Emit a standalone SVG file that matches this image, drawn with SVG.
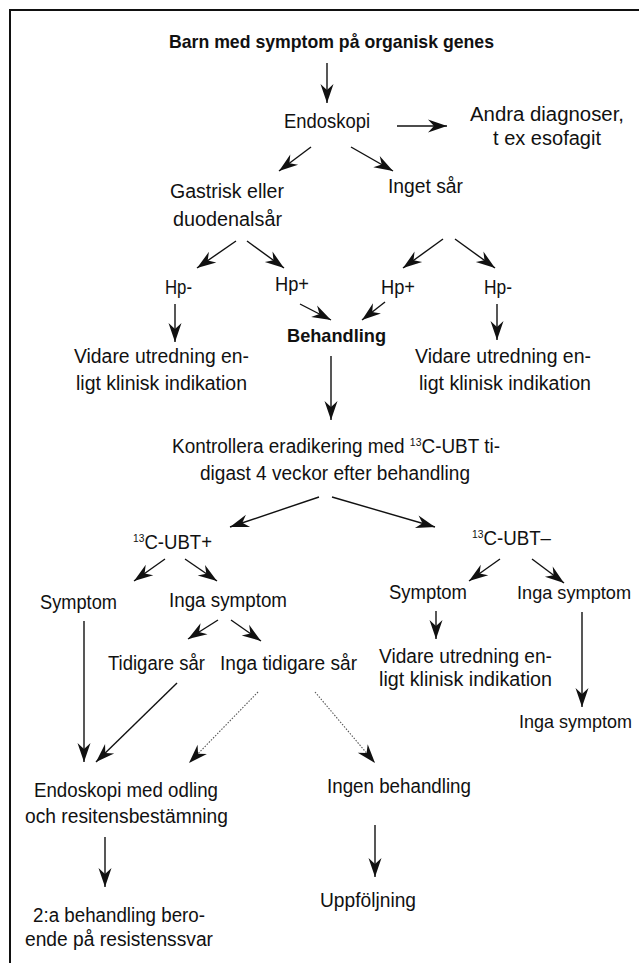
<svg xmlns="http://www.w3.org/2000/svg" width="639" height="963" viewBox="0 0 639 963">
<style>
text{font-family:"Liberation Sans Narrow","Liberation Sans","Arial Narrow",Arial,sans-serif;font-size:20px;fill:#111}
.b{font-weight:bold;font-size:19px}
.s{font-size:19px}
.sup{font-size:11px}
.c{fill:none;stroke:#111;stroke-width:1.4}
.d{fill:none;stroke:#555;stroke-width:1.1;stroke-dasharray:1.5 1.5}
</style>
<defs>
<marker id="ah" viewBox="-20 -7 21 14" refX="0" refY="0" markerWidth="21" markerHeight="14" markerUnits="userSpaceOnUse" orient="auto">
<path d="M0,0 L-19,-6.5 L-13,0 L-19,6.5 Z" fill="#111"/>
</marker>
</defs>
<rect width="639" height="963" fill="#fff"/>
<g id="frame" fill="none" stroke="#111" stroke-width="2">
<path d="M9,10 H639 M10,9 V963"/>
</g>
<g id="connectors">
<line class="c" x1="327" y1="63" x2="327" y2="103" marker-end="url(#ah)"/>
<line class="c" x1="397" y1="126" x2="447" y2="126" marker-end="url(#ah)"/>
<line class="c" x1="311" y1="147" x2="279" y2="171" marker-end="url(#ah)"/>
<line class="c" x1="351" y1="147" x2="393" y2="171" marker-end="url(#ah)"/>
<line class="c" x1="236" y1="241" x2="197" y2="268" marker-end="url(#ah)"/>
<line class="c" x1="247" y1="241" x2="284" y2="268" marker-end="url(#ah)"/>
<line class="c" x1="443" y1="239" x2="403" y2="268" marker-end="url(#ah)"/>
<line class="c" x1="455" y1="239" x2="495" y2="268" marker-end="url(#ah)"/>
<line class="c" x1="300" y1="304" x2="331" y2="320" marker-end="url(#ah)"/>
<line class="c" x1="385" y1="302" x2="362" y2="320" marker-end="url(#ah)"/>
<line class="c" x1="175" y1="304" x2="175" y2="342" marker-end="url(#ah)"/>
<line class="c" x1="497" y1="304" x2="497" y2="340" marker-end="url(#ah)"/>
<line class="c" x1="331" y1="356" x2="331" y2="420" marker-end="url(#ah)"/>
<line class="c" x1="319" y1="497" x2="230" y2="527" marker-end="url(#ah)"/>
<line class="c" x1="332" y1="497" x2="435" y2="527" marker-end="url(#ah)"/>
<line class="c" x1="165" y1="559" x2="134" y2="581" marker-end="url(#ah)"/>
<line class="c" x1="185" y1="559" x2="217" y2="581" marker-end="url(#ah)"/>
<line class="c" x1="500" y1="559" x2="469" y2="581" marker-end="url(#ah)"/>
<line class="c" x1="532" y1="559" x2="564" y2="583" marker-end="url(#ah)"/>
<line class="c" x1="218" y1="620" x2="188" y2="639" marker-end="url(#ah)"/>
<line class="c" x1="231" y1="620" x2="261" y2="641" marker-end="url(#ah)"/>
<line class="c" x1="436" y1="611" x2="436" y2="639" marker-end="url(#ah)"/>
<line class="c" x1="582" y1="612" x2="582" y2="707" marker-end="url(#ah)"/>
<line class="c" x1="84" y1="621" x2="84" y2="762" marker-end="url(#ah)"/>
<line class="c" x1="177" y1="683" x2="96" y2="762" marker-end="url(#ah)"/>
<line class="d" x1="258" y1="692" x2="189" y2="763" marker-end="url(#ah)"/>
<line class="d" x1="315" y1="692" x2="375" y2="763" marker-end="url(#ah)"/>
<line class="c" x1="105" y1="837" x2="105" y2="887" marker-end="url(#ah)"/>
<line class="c" x1="375" y1="825" x2="375" y2="877" marker-end="url(#ah)"/>
</g>
<g id="n-start"><text class="b" x="169" y="48" textLength="325" lengthAdjust="spacingAndGlyphs">Barn med symptom på organisk genes</text></g>
<g id="n-endoskopi"><text x="284" y="128" textLength="86" lengthAdjust="spacingAndGlyphs">Endoskopi</text></g>
<g id="n-andra"><text x="470" y="121" textLength="154" lengthAdjust="spacingAndGlyphs">Andra diagnoser,</text><text x="493" y="145" textLength="108" lengthAdjust="spacingAndGlyphs">t ex esofagit</text></g>
<g id="n-gastrisk"><text x="170" y="198" textLength="114" lengthAdjust="spacingAndGlyphs">Gastrisk eller</text><text x="173" y="226" textLength="109" lengthAdjust="spacingAndGlyphs">duodenalsår</text></g>
<g id="n-inget"><text x="388" y="193" textLength="75" lengthAdjust="spacingAndGlyphs">Inget sår</text></g>
<g id="n-hpneg1"><text x="165" y="294" textLength="27" lengthAdjust="spacingAndGlyphs">Hp-</text></g>
<g id="n-hppos1"><text x="275" y="291" textLength="34" lengthAdjust="spacingAndGlyphs">Hp+</text></g>
<g id="n-hppos2"><text x="381" y="294" textLength="34" lengthAdjust="spacingAndGlyphs">Hp+</text></g>
<g id="n-hpneg2"><text x="484" y="294" textLength="28" lengthAdjust="spacingAndGlyphs">Hp-</text></g>
<g id="n-behandling"><text class="b" x="287" y="342" textLength="99" lengthAdjust="spacingAndGlyphs">Behandling</text></g>
<g id="n-vidare1"><text x="74" y="363" textLength="175" lengthAdjust="spacingAndGlyphs">Vidare utredning en-</text><text x="76" y="390" textLength="171" lengthAdjust="spacingAndGlyphs">ligt klinisk indikation</text></g>
<g id="n-vidare2"><text x="415" y="363" textLength="176" lengthAdjust="spacingAndGlyphs">Vidare utredning en-</text><text x="419" y="390" textLength="172" lengthAdjust="spacingAndGlyphs">ligt klinisk indikation</text></g>
<g id="n-kontrollera"><text x="172" y="453" textLength="328" lengthAdjust="spacingAndGlyphs">Kontrollera eradikering med <tspan class="sup" dy="-7">13</tspan><tspan dy="7">C-UBT ti-</tspan></text><text x="200" y="480" textLength="270" lengthAdjust="spacingAndGlyphs">digast 4 veckor efter behandling</text></g>
<g id="n-ubtpos"><text x="133" y="549" textLength="79" lengthAdjust="spacingAndGlyphs"><tspan class="sup" dy="-7">13</tspan><tspan dy="7">C-UBT+</tspan></text></g>
<g id="n-ubtneg"><text x="472" y="545" textLength="79" lengthAdjust="spacingAndGlyphs"><tspan class="sup" dy="-7">13</tspan><tspan dy="7">C-UBT–</tspan></text></g>
<g id="n-symptom1"><text x="40" y="609" textLength="77" lengthAdjust="spacingAndGlyphs">Symptom</text></g>
<g id="n-ingasym1"><text x="169" y="607" textLength="118" lengthAdjust="spacingAndGlyphs">Inga symptom</text></g>
<g id="n-symptom2"><text x="389" y="599" textLength="78" lengthAdjust="spacingAndGlyphs">Symptom</text></g>
<g id="n-ingasym2"><text class="s" x="517" y="599" textLength="114" lengthAdjust="spacingAndGlyphs">Inga symptom</text></g>
<g id="n-tidigare"><text x="108" y="670" textLength="97" lengthAdjust="spacingAndGlyphs">Tidigare sår</text></g>
<g id="n-ingatidigare"><text x="220" y="670" textLength="137" lengthAdjust="spacingAndGlyphs">Inga tidigare sår</text></g>
<g id="n-vidare3"><text x="379" y="663" textLength="173" lengthAdjust="spacingAndGlyphs">Vidare utredning en-</text><text x="379" y="686" textLength="173" lengthAdjust="spacingAndGlyphs">ligt klinisk indikation</text></g>
<g id="n-ingasym3"><text class="s" x="519" y="728" textLength="113" lengthAdjust="spacingAndGlyphs">Inga symptom</text></g>
<g id="n-endoodling"><text x="34" y="797" textLength="184" lengthAdjust="spacingAndGlyphs">Endoskopi med odling</text><text x="25" y="823" textLength="203" lengthAdjust="spacingAndGlyphs">och resitensbestämning</text></g>
<g id="n-ingenbeh"><text x="327" y="793" textLength="144" lengthAdjust="spacingAndGlyphs">Ingen behandling</text></g>
<g id="n-uppfoljning"><text x="320" y="907" textLength="96" lengthAdjust="spacingAndGlyphs">Uppföljning</text></g>
<g id="n-andrabeh"><text x="33" y="922" textLength="172" lengthAdjust="spacingAndGlyphs">2:a behandling bero-</text><text x="25" y="946" textLength="188" lengthAdjust="spacingAndGlyphs">ende på resistenssvar</text></g>
</svg>
